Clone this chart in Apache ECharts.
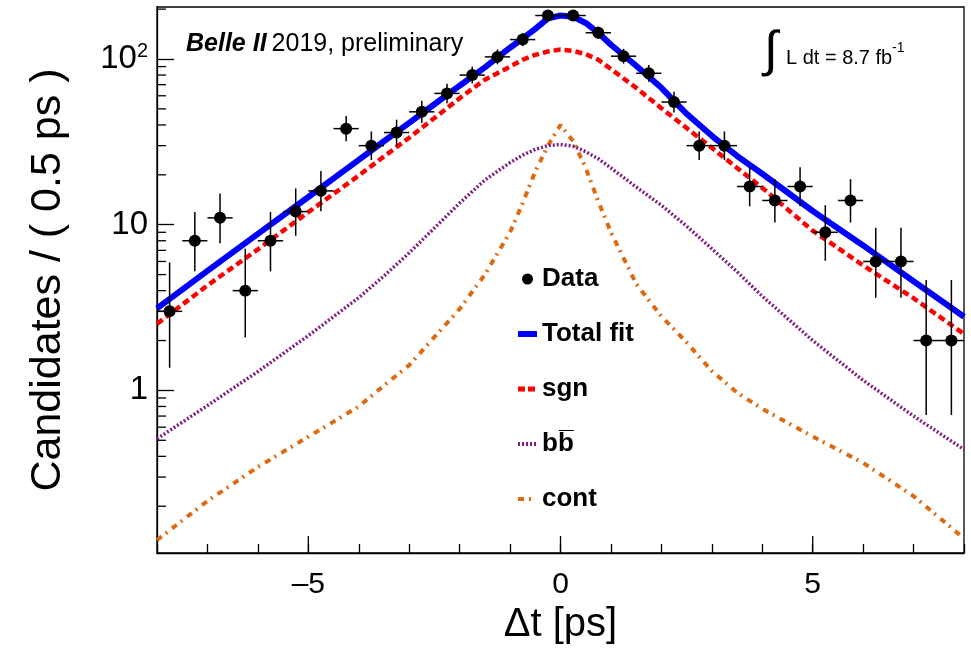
<!DOCTYPE html>
<html><head><meta charset="utf-8">
<script src="https://cdn.jsdelivr.net/npm/echarts@6/dist/echarts.min.js"></script>
<style>html,body{margin:0;padding:0;background:#fff}#c{width:971px;height:651px}</style>
</head><body><div id="c"></div>
<script>
// ---- data ----
const binCenters = [-7.75,-7.25,-6.75,-6.25,-5.75,-5.25,-4.75,-4.25,-3.75,-3.25,-2.75,-2.25,-1.75,-1.25,-0.75,-0.25,
                     0.25,0.75,1.25,1.75,2.25,2.75,3.25,3.75,4.25,4.75,5.25,5.75,6.25,6.75,7.25,7.75];
const counts = [3,8,11,4,8,12,16,38,30,36,48,62,80,103,131,183,183,144,104,82,55,30,30,17,14,17,9,14,6,6,2,2];
const errLow = [1.37,5.23,7.73,2.09,5.23,8.58,12.04,31.86,24.56,30.03,41.10,54.15,71.07,92.87,119.57,169.49,
                169.49,132.02,93.82,72.96,47.61,24.56,24.56,12.92,10.30,12.92,6.06,10.30,3.62,3.62,0.71,0.71];
const errHigh = [5.92,11.95,15.42,7.16,11.95,16.56,21.08,45.22,36.54,43.05,55.97,70.92,89.98,114.18,143.47,197.55,
                 197.55,157.03,115.20,92.09,63.46,36.54,36.54,22.20,18.83,22.20,13.11,18.83,9.58,9.58,4.64,4.64];
const binHalfWidth = 0.25;

const curveX   = [-8,-7,-6,-5,-4,-3.5,-3,-2.5,-2,-1.5,-1,-0.75,-0.5,-0.25,0,0.25,0.5,0.75,1,1.5,2,2.5,3,3.5,4,5,6,7,8];
const totalFit = [3.13,5.26,8.8,14.7,24.6,31.9,41.2,53.3,69,89,117,133,152,176,183,180,165,144,122,91,67,46.7,34.4,26,20.3,12.1,7.5,4.56,2.78];
const sgn      = [2.52,4.3,7.1,11.9,19.8,25.8,33.5,44,58,75,90,99,106,111,114,112,107,99,87,67,50.5,38.3,29.1,22,16.7,9.2,5.68,3.6,2.19];
const bbbar    = [0.51,0.81,1.3,2.14,3.63,4.9,6.76,9.55,13.5,18.6,23.7,26.3,28.5,30,30.5,29.8,27.6,25,22,16.9,13.1,9.8,7.16,5.2,3.7,2.0,1.15,0.7,0.44];
const cont     = [0.125,0.215,0.345,0.525,0.8,1.07,1.42,2.1,3.1,5.0,9.0,13.5,21,30,40,32,22,13.8,9,4.4,2.8,1.95,1.31,0.97,0.774,0.527,0.365,0.23,0.128];

const xRange = [-8, 8];
const yRange = [0.1044, 206];
const xMajorTicks = [-5, 0, 5];
const yMinorTicks = [0.2,0.3,0.4,0.5,0.6,0.7,0.8,0.9,2,3,4,5,6,7,8,9,20,30,40,50,60,70,80,90,200];
const yDecadeLabels = {1: '1', 10: '10', 100: '{b|10}{s|2}'};

const nameData = 'Data', nameTotal = 'Total fit', nameSgn = 'sgn', nameBB = 'bb\u0305', nameCont = 'cont';

// ---- chart ----
const FONT = 'Liberation Sans, Arial, Helvetica, sans-serif';
const chart = echarts.init(document.getElementById('c'), null, {renderer: 'canvas'});
const zip = (xs, ys) => xs.map((x, i) => [x, ys[i]]);
const noSym = {color: 'transparent', borderWidth: 0, opacity: 0};

const option = {
  animation: false,
  backgroundColor: '#fff',
  textStyle: {fontFamily: FONT},
  grid: {left: 157, right: 7, top: 7, bottom: 98, show: true, borderColor: '#000', borderWidth: 1.3, backgroundColor: 'transparent'},
  title: [
    {left: 181, top: 27, text: '{bi|Belle II} {n|2019, preliminary}',
     textStyle: {fontWeight: 'normal', rich: {
       bi: {fontFamily: FONT, fontSize: 25, fontWeight: 'bold', fontStyle: 'italic', color: '#000'},
       n: {fontFamily: FONT, fontSize: 25, fontWeight: 'normal', color: '#000'}}}},
    {left: 759, top: 22, text: '\u222B', textStyle: {fontFamily: FONT, fontSize: 50, fontWeight: 'normal', color: '#000'}},
    {left: 781, top: 43, text: 'L dt = 8.7 fb', textStyle: {fontFamily: FONT, fontSize: 20, fontWeight: 'normal', color: '#000'}},
    {left: 887, top: 36, text: '-1', textStyle: {fontFamily: FONT, fontSize: 14, fontWeight: 'normal', color: '#000'}}
  ],
  legend: {
    orient: 'vertical', left: 510, top: 261, itemWidth: 19, itemHeight: 11, itemGap: 29,
    selectedMode: false,
    textStyle: {fontFamily: FONT, fontSize: 26, fontWeight: 'bold', color: '#000', lineHeight: 26},
    data: [
      {name: nameData, icon: 'circle', itemStyle: {color: '#000'}},
      {name: nameTotal, itemStyle: noSym, lineStyle: {width: 6, type: 'solid', color: '#0000ff'}},
      {name: nameSgn, itemStyle: noSym, lineStyle: {width: 5, type: [7, 3], color: '#ff0000'}},
      {name: nameBB, itemStyle: noSym, lineStyle: {width: 4, type: [2, 2], color: '#7f1f80'}},
      {name: nameCont, itemStyle: noSym, lineStyle: {width: 4, type: [6, 5, 2, 6], color: '#dd6a10'}}
    ]
  },
  xAxis: {
    type: 'value', min: xRange[0], max: xRange[1], interval: 1,
    name: '\u0394t [ps]', nameLocation: 'middle', nameGap: 46,
    nameTextStyle: {fontFamily: FONT, fontSize: 40, color: '#000'},
    axisLine: {show: true, onZero: false, lineStyle: {color: '#000', width: 1.3}},
    axisTick: {show: true, inside: true, length: 9, lineStyle: {color: '#000', width: 1.3}},
    splitLine: {show: false},
    axisLabel: {margin: 17, fontFamily: FONT, fontSize: 30, color: '#000',
      formatter: v => (v % 5 === 0 && Math.abs(v) < 8) ? (v < 0 ? '\u2013' + Math.abs(v) : String(v)) : ''}
  },
  yAxis: {
    type: 'log', logBase: 10, min: yRange[0], max: yRange[1],
    name: 'Candidates / ( 0.5 ps )', nameLocation: 'middle', nameGap: 87, nameRotate: 90,
    nameTextStyle: {fontFamily: FONT, fontSize: 43, color: '#000'},
    axisLine: {show: true, onZero: false, lineStyle: {color: '#000', width: 1.3}},
    axisTick: {show: true, inside: true, length: 17, lineStyle: {color: '#000', width: 1.3}},
    splitLine: {show: false},
    axisLabel: {margin: 9, fontFamily: FONT, fontSize: 33, color: '#000',
      showMinLabel: false, showMaxLabel: false,
      formatter: v => { const k = Math.round(v * 1000) / 1000; return yDecadeLabels[k] || ''; },
      rich: {b: {fontFamily: FONT, fontSize: 33, color: '#000'},
             s: {fontFamily: FONT, fontSize: 20, color: '#000', padding: [0, 0, 15, 0]}}}
  },
  series: [
    {type: 'custom', name: 'yminor', silent: true, z: 5, clip: false,
     data: yMinorTicks.map(v => [xRange[0], v]),
     renderItem: (params, api) => {
       const p = api.coord([api.value(0), api.value(1)]);
       return {type: 'line', shape: {x1: p[0], y1: p[1], x2: p[0] + 9, y2: p[1]}, style: {stroke: '#000', lineWidth: 1.3}};
     }},
    {type: 'custom', name: 'xmajor', silent: true, z: 5, clip: false,
     data: xMajorTicks.map(v => [v, yRange[0]]),
     renderItem: (params, api) => {
       const p = api.coord([api.value(0), api.value(1)]);
       return {type: 'line', shape: {x1: p[0], y1: p[1], x2: p[0], y2: p[1] - 17}, style: {stroke: '#000', lineWidth: 1.3}};
     }},
    {type: 'line', name: nameCont, data: zip(curveX, cont), showSymbol: false, symbol: 'none', smooth: false, z: 2,
     lineStyle: {color: '#dd6a10', width: 4, type: [6, 5, 2, 6]}, itemStyle: {color: '#dd6a10'}},
    {type: 'line', name: nameBB, data: zip(curveX, bbbar), showSymbol: false, symbol: 'none', smooth: false, z: 2,
     lineStyle: {color: '#7f1f80', width: 3.5, type: [2, 2]}, itemStyle: {color: '#7f1f80'}},
    {type: 'line', name: nameTotal, data: zip(curveX, totalFit), showSymbol: false, symbol: 'none', smooth: false, z: 3,
     lineStyle: {color: '#0000ff', width: 6}, itemStyle: {color: '#0000ff'}},
    {type: 'line', name: nameSgn, data: zip(curveX, sgn), showSymbol: false, symbol: 'none', smooth: false, z: 4,
     lineStyle: {color: '#ff0000', width: 4.5, type: [7, 4]}, itemStyle: {color: '#ff0000'}},
    {type: 'custom', name: nameData, z: 10, itemStyle: {color: '#000'},
     data: binCenters.map((x, i) => [x, counts[i], errLow[i], errHigh[i]]),
     renderItem: (params, api) => {
       const x = api.value(0), y = api.value(1);
       const c = api.coord([x, y]);
       const pl = api.coord([x, api.value(2)]);
       const ph = api.coord([x, api.value(3)]);
       const l = api.coord([x - binHalfWidth, y]);
       const r = api.coord([x + binHalfWidth, y]);
       return {type: 'group', children: [
         {type: 'line', shape: {x1: pl[0], y1: pl[1], x2: ph[0], y2: ph[1]}, style: {stroke: '#000', lineWidth: 1.5}},
         {type: 'line', shape: {x1: l[0], y1: l[1], x2: r[0], y2: r[1]}, style: {stroke: '#000', lineWidth: 1.5}},
         {type: 'circle', shape: {cx: c[0], cy: c[1], r: 6}, style: {fill: '#000'}}
       ]};
     }}
  ]
};
chart.setOption(option);
</script></body></html>
